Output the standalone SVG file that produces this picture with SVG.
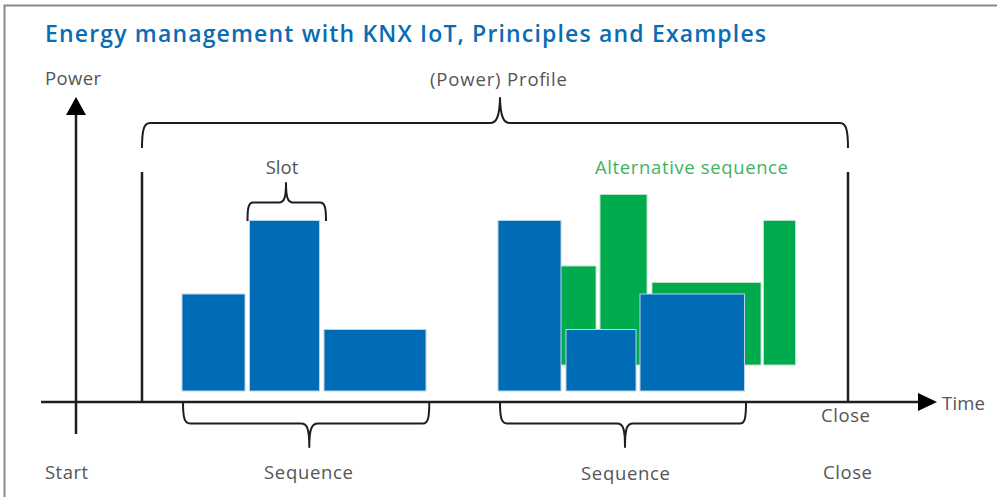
<svg xmlns="http://www.w3.org/2000/svg" width="997" height="497" viewBox="0 0 997 497">
<style>
.lbl{font-family:"Open Sans","Liberation Sans",sans-serif;font-size:18.5px;fill:#555555}
.ttl{font-family:"Open Sans","Liberation Sans",sans-serif;font-size:23px;font-weight:600;fill:#0a6cb4}
.alt{font-family:"Open Sans","Liberation Sans",sans-serif;font-size:18.5px;fill:#3fb35f}
.blue{fill:#006cb5;stroke:#b9d4ec;stroke-width:1}
.green{fill:#00ab4e;stroke:#b5e2c4;stroke-width:1}
.brace{fill:none;stroke:#1e1e1e;stroke-width:2;stroke-linejoin:round}
.axis{stroke:#1e1e1e;stroke-width:2.5;fill:none}
</style>
<rect width="997" height="497" fill="#ffffff"/>
<path d="M4.5,497 V5.5 H997" fill="none" stroke="#8a8a8a" stroke-width="2"/>
<text class="ttl" x="45" y="42" textLength="721">Energy management with KNX IoT, Principles and Examples</text>

<g id="axes">
<line class="axis" x1="76" y1="434" x2="76" y2="114"/>
<path d="M66,115 L76,97 L86,115 Z" fill="#000"/>
<line class="axis" x1="41" y1="402" x2="919" y2="402"/>
<path d="M918,393 L937,402 L918,411 Z" fill="#000"/>
<line class="axis" x1="142" y1="172" x2="142" y2="402"/>
<line class="axis" x1="848" y1="172" x2="848" y2="402"/>
</g>

<g id="labels">
<text class="lbl" x="45" y="85" textLength="56">Power</text>
<text class="lbl" x="430" y="86" textLength="137">(Power) Profile</text>
<text class="lbl" x="282" y="174" text-anchor="middle">Slot</text>
<text class="alt" x="595" y="174" textLength="193">Alternative sequence</text>
<text class="lbl" x="942" y="410" textLength="43">Time</text>
<text class="lbl" x="821" y="422" textLength="49">Close</text>
<text class="lbl" x="45" y="479" textLength="43">Start</text>
<text class="lbl" x="264" y="479" textLength="89">Sequence</text>
<text class="lbl" x="581" y="480" textLength="89">Sequence</text>
<text class="lbl" x="823" y="479" textLength="49">Close</text>
</g>

<g id="sequence1">
<rect class="blue" x="182" y="294" width="63" height="97"/>
<rect class="blue" x="249.5" y="220.5" width="70" height="170.5"/>
<rect class="blue" x="324" y="329.5" width="102" height="61.5"/>
</g>

<g id="alternative">
<rect class="green" x="560" y="266" width="36" height="99"/>
<rect class="green" x="600" y="194.5" width="47" height="170.5"/>
<rect class="green" x="652" y="282.5" width="109" height="82.5"/>
<rect class="green" x="763.5" y="220.5" width="32" height="144.5"/>
</g>

<g id="sequence2">
<rect class="blue" x="498" y="220.5" width="63" height="170.5"/>
<rect class="blue" x="566" y="329.5" width="70" height="61.5"/>
<rect class="blue" x="640" y="294" width="104.5" height="97"/>
</g>

<g id="braces">
<path class="brace" d="M142,148 C142,130 144,123 150,123 H490 C496,123 499.5,118 500,98 C500.5,118 504,123 510,123 H840 C846,123 848,130 848,148"/>
<path class="brace" d="M247.5,221 C247.5,208 248.5,202.5 253,202.5 H279 C284,202.5 286,198 286,183 C286,198 288,202.5 293,202.5 H320 C325,202.5 326,208 326,221"/>
<path class="brace" d="M183,402 C183,418 184.5,423.5 190,423.5 H301 C307,423.5 309.3,428 309.3,447 C309.3,428 312,423.5 318,423.5 H423 C428,423.5 429.3,418 429.3,402"/>
<path class="brace" d="M500,402 C500,418 501.5,423.5 507,423.5 H617 C623,423.5 625,428 625,447 C625,428 627,423.5 633,423.5 H740 C745,423.5 746,418 746,402"/>
</g>
</svg>
